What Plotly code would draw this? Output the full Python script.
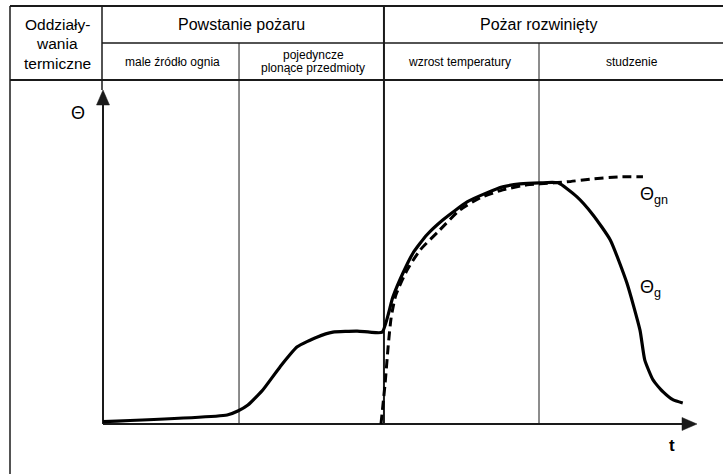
import plotly.graph_objects as go

# ---- data (time t and gas temperature Θ in arbitrary units) ----
t_g = [0.0, 20.9, 22.7, 24.4, 26.9, 29.8, 32.7, 36.0, 38.7, 42.8, 44.9, 47.0,
       48.8, 50.5, 52.2, 54.5, 57.2, 61.3, 64.6, 67.3, 70.2, 73.6, 76.6,
       79.8, 82.5, 85.4, 88.2, 90.4, 91.2, 92.6, 94.3, 96.0, 97.6]
theta_g = [0.7, 2.7, 3.9, 5.7, 10.2, 17.1, 23.1, 26.0, 27.5, 27.8, 27.5, 27.5,
           38.0, 45.2, 51.2, 56.6, 61.1, 66.5, 69.2, 71.0, 71.9, 72.2, 72.2,
           68.0, 62.6, 55.1, 42.2, 28.1, 19.2, 13.2, 9.6, 7.2, 6.3]

t_gn = [46.8, 47.5, 48.0, 48.5, 49.3, 51.2, 53.4, 56.7, 60.1, 63.5, 67.3,
        71.4, 73.6, 78.1, 82.5, 87.0, 90.9]
theta_gn = [0.0, 12.3, 23.1, 31.7, 38.6, 46.1, 52.1, 58.1, 64.1, 67.7, 70.1,
            71.6, 71.9, 72.5, 73.4, 74.0, 74.0]

phase_bounds = [22.9, 47.3, 73.4]          # t of the phase dividers
axis_end = 100.0                            # arrow tips

row_header = ["Oddziały-", "wania", "termiczne"]
main_headers = ["Powstanie pożaru", "Pożar rozwinięty"]
sub_headers = ["male źródło ognia", "pojedyncze", "plonące przedmioty",
               "wzrost temperatury", "studzenie"]
curve_labels = ["Θ<sub>gn</sub>", "Θ<sub>g</sub>"]
axis_labels = ["Θ", "t"]

# ---- figure geometry (pixel frame of the drawing) ----
W, H = 723, 474
X0, XS = 103.0, 5.94     # pixel of t=0, pixels per t unit
Y0, YS = 424.0, 3.34     # pixel of Θ=0, pixels per Θ unit
xr = [(0 - X0) / XS, (W - X0) / XS]
yr = [(Y0 - H) / YS, (Y0 - 0) / YS]

def px(x):
    return x / W

def py(y):
    return 1 - y / H

LINE = "#1a1a1a"
FONT = "Liberation Sans, Arial, Helvetica, sans-serif"
NARROW = "Liberation Sans Narrow, Arial Narrow, Liberation Sans, sans-serif"

fig = go.Figure()

# axes as line traces
fig.add_trace(go.Scatter(x=[0, 0, None, 0, axis_end - 2], y=[axis_end - 2, 0, None, 0, 0],
                         mode="lines", line=dict(color=LINE, width=2),
                         showlegend=False, hoverinfo="skip"))
# arrow heads (15 px long, 13 px wide), sized in data units
hl_x, hw_x = 15 / XS, 6.5 / YS
hl_y, hw_y = 15 / YS, 6.5 / XS
fig.add_trace(go.Scatter(x=[axis_end, axis_end - hl_x, axis_end - hl_x, axis_end],
                         y=[0, hw_x, -hw_x, 0], mode="lines", fill="toself",
                         fillcolor=LINE, line=dict(color=LINE, width=0.5),
                         showlegend=False, hoverinfo="skip"))
fig.add_trace(go.Scatter(x=[0, hw_y, -hw_y, 0],
                         y=[axis_end, axis_end - hl_y, axis_end - hl_y, axis_end],
                         mode="lines", fill="toself",
                         fillcolor=LINE, line=dict(color=LINE, width=0.5),
                         showlegend=False, hoverinfo="skip"))

fig.add_trace(go.Scatter(x=t_g, y=theta_g, mode="lines",
                         line=dict(color="black", width=3.2, shape="spline", smoothing=0.5),
                         showlegend=False, hoverinfo="skip"))
fig.add_trace(go.Scatter(x=t_gn, y=theta_gn, mode="lines",
                         line=dict(color="black", width=3, dash="9px,5px", shape="spline", smoothing=0.6),
                         showlegend=False, hoverinfo="skip"))

shapes = []
def pline(x0, y0, x1, y1, w=1.5):
    shapes.append(dict(type="line", xref="paper", yref="paper",
                       x0=px(x0), y0=py(y0), x1=px(x1), y1=py(y1),
                       line=dict(color=LINE, width=w), layer="below"))

# header table frame
pline(10, 6, W + 5, 6, 2)
pline(10, 6, 10, H + 5, 1.5)
pline(102, 43, W + 5, 43, 1.5)
pline(10, 80, W + 5, 80, 2)
pline(102, 6, 102, 90, 1.5)

# phase dividers (data-anchored in x)
bound_tops = [43, 6, 43]
bound_w = [1, 2, 1]
for tb, top, w in zip(phase_bounds, bound_tops, bound_w):
    shapes.append(dict(type="line", xref="x", yref="paper",
                       x0=tb, x1=tb, y0=py(top), y1=py(Y0),
                       line=dict(color=LINE, width=w), layer="below"))

annotations = []

def ptext(x, y, s, size, fam=FONT, color="black"):
    annotations.append(dict(x=px(x), y=py(y), xref="paper", yref="paper",
                            text=s, showarrow=False, xanchor="center", yanchor="middle",
                            font=dict(size=size, family=fam, color=color)))

for i, s in enumerate(row_header):
    ptext(57, 24 + 19.5 * i, s, 15.5)
ptext(242, 24, main_headers[0], 16)
ptext(538, 24, main_headers[1], 16)
ptext(172, 62, sub_headers[0], 12, NARROW)
ptext(313, 55, sub_headers[1], 12, NARROW)
ptext(313, 68, sub_headers[2], 12, NARROW)
ptext(459, 62, sub_headers[3], 12, NARROW)
ptext(632, 62, sub_headers[4], 12, NARROW)

ptext(78, 113, axis_labels[0], 18)
ptext(672, 445, "<b>" + axis_labels[1] + "</b>", 17)
annotations.append(dict(x=px(638), y=py(195), xref="paper", yref="paper",
                        text=curve_labels[0], showarrow=False, xanchor="left",
                        yanchor="middle", font=dict(size=18, family=FONT, color="black")))
annotations.append(dict(x=px(638), y=py(288), xref="paper", yref="paper",
                        text=curve_labels[1], showarrow=False, xanchor="left",
                        yanchor="middle", font=dict(size=18, family=FONT, color="black")))

fig.update_layout(
    width=W, height=H,
    margin=dict(l=0, r=0, t=0, b=0),
    paper_bgcolor="white", plot_bgcolor="white",
    xaxis=dict(range=xr, visible=False, fixedrange=True),
    yaxis=dict(range=yr, visible=False, fixedrange=True),
    shapes=shapes, annotations=annotations,
    showlegend=False,
)

fig.write_html("out.html", config={"displayModeBar": False},
               post_script="document.body.style.margin='0';document.body.style.overflow='hidden';")
